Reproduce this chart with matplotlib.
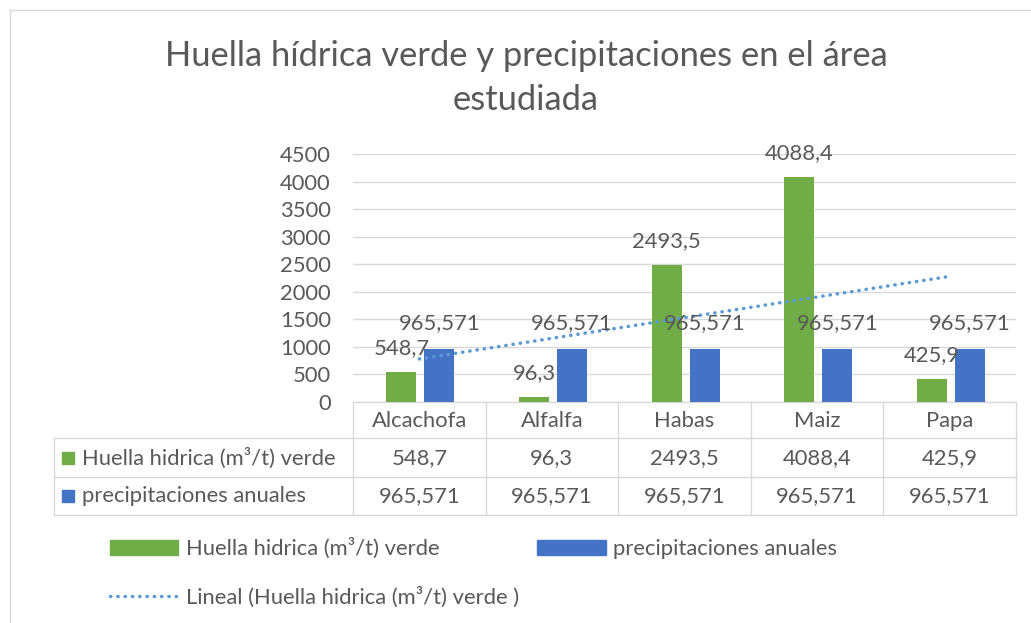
import numpy as np
import matplotlib.pyplot as plt
import matplotlib.transforms as mtransforms
from matplotlib.patches import Patch, Rectangle
from matplotlib.lines import Line2D

plt.rcParams['font.family'] = ['Lato', 'DejaVu Sans']

# datos
cultivos = ["Alcachofa", "Alfalfa", "Habas", "Maiz", "Papa"]
huella_verde = [548.7, 96.3, 2493.5, 4088.4, 425.9]
precipitaciones = [965.571, 965.571, 965.571, 965.571, 965.571]
nombre_huella = "Huella hidrica (m³/t) verde"
nombre_prec = "precipitaciones anuales"
nombre_tend = "Lineal (Huella hidrica (m³/t) verde )"
titulo = "Huella hídrica verde y precipitaciones en el área\nestudiada"

verde = "#70AD47"
azul = "#4472C4"
celeste = "#5B9BD5"
gris = "#595959"
borde = "#D9D9D9"
fs = 15.8


def fmt(v):
    return f"{v:g}".replace(".", ",")


W, H = 1031, 623
fig = plt.figure(figsize=(W / 100, H / 100), dpi=100)

# capa de fondo en pixeles
bg = fig.add_axes([0, 0, 1, 1], zorder=0)
bg.set_xlim(0, W)
bg.set_ylim(H, 0)
bg.axis("off")
bg.plot([10, W], [10, 10], color=borde, lw=1)
bg.plot([10, 10], [10, H], color=borde, lw=1)

bg.text(526, 78, titulo, ha="center", va="center", fontsize=24.8,
        color=gris, linespacing=1.5)

ax = fig.add_axes([353 / W, 1 - 402 / H, 663 / W, 248 / H], zorder=1)
ax.patch.set_alpha(0)
x = np.arange(1, len(cultivos) + 1)
ax.bar(x - 0.135, huella_verde, width=0.226, color=verde, zorder=3)
ax.bar(x + 0.152, precipitaciones, width=0.226, color=azul, zorder=3)

pend, inter = np.polyfit(x, huella_verde, 1)
ax.plot(x, pend * x + inter, color=celeste, lw=2.5,
        linestyle=(0, (0.1, 2)), dash_capstyle="round", zorder=4)

for xi, v in zip(x - 0.135, huella_verde):
    ax.annotate(fmt(v), (xi, v), xytext=(0, 17), textcoords="offset points",
                ha="center", va="center", fontsize=fs, color=gris, zorder=5)
for xi, v in zip(x + 0.152, precipitaciones):
    ax.annotate(fmt(v), (xi, v), xytext=(0, 18.5), textcoords="offset points",
                ha="center", va="center", fontsize=fs, color=gris, zorder=5)

ax.set_xlim(0.5, len(cultivos) + 0.5)
ax.set_ylim(0, 4500)
ax.set_yticks(np.arange(0, 4501, 500))
ax.set_xticks([])
ax.grid(axis="y", color=borde, lw=1, zorder=0)
for s in ax.spines.values():
    s.set_visible(False)
ax.tick_params(axis="y", length=0, labelsize=fs, labelcolor=gris, pad=16)

# tabla de datos
tr = mtransforms.blended_transform_factory(ax.transData, bg.transData)
bordes_col = np.arange(0.5, len(cultivos) + 1)
for b in bordes_col:
    bg.plot([b, b], [402, 515], color=borde, lw=1, transform=tr)
bg.plot([54, 54], [438, 515], color=borde, lw=1)
bg.plot([353, 1016], [402, 402], color=borde, lw=1)
for yy in [438, 477, 515]:
    bg.plot([54, 1016], [yy, yy], color=borde, lw=1)

for xi, c in zip(x, cultivos):
    bg.text(xi, 421, c, transform=tr, ha="center", va="center",
            fontsize=fs, color=gris)
for yy, serie, col, nom in [(458, huella_verde, verde, nombre_huella),
                            (496, precipitaciones, azul, nombre_prec)]:
    bg.add_patch(Rectangle((62, yy - 6), 12, 12, color=col))
    bg.text(82, yy, nom, ha="left", va="center", fontsize=fs, color=gris)
    for xi, v in zip(x, serie):
        bg.text(xi, yy, fmt(v), transform=tr, ha="center", va="center",
                fontsize=fs, color=gris)

# leyenda
manejadores = [Patch(color=verde, label=nombre_huella),
               Line2D([], [], color=celeste, lw=2.5, linestyle=(0, (0.1, 2)),
                      dash_capstyle="round", label=nombre_tend),
               Patch(color=azul, label=nombre_prec)]
fig.legend(handles=manejadores, loc="upper left",
           bbox_to_anchor=(110 / W, 1 - 538 / H), ncol=2, frameon=False,
           fontsize=fs, labelcolor=gris, borderpad=0, borderaxespad=0,
           handlelength=3.1, handleheight=0.65, handletextpad=0.35,
           columnspacing=0.85, labelspacing=1.25)

fig.savefig("out.png", dpi=100)
